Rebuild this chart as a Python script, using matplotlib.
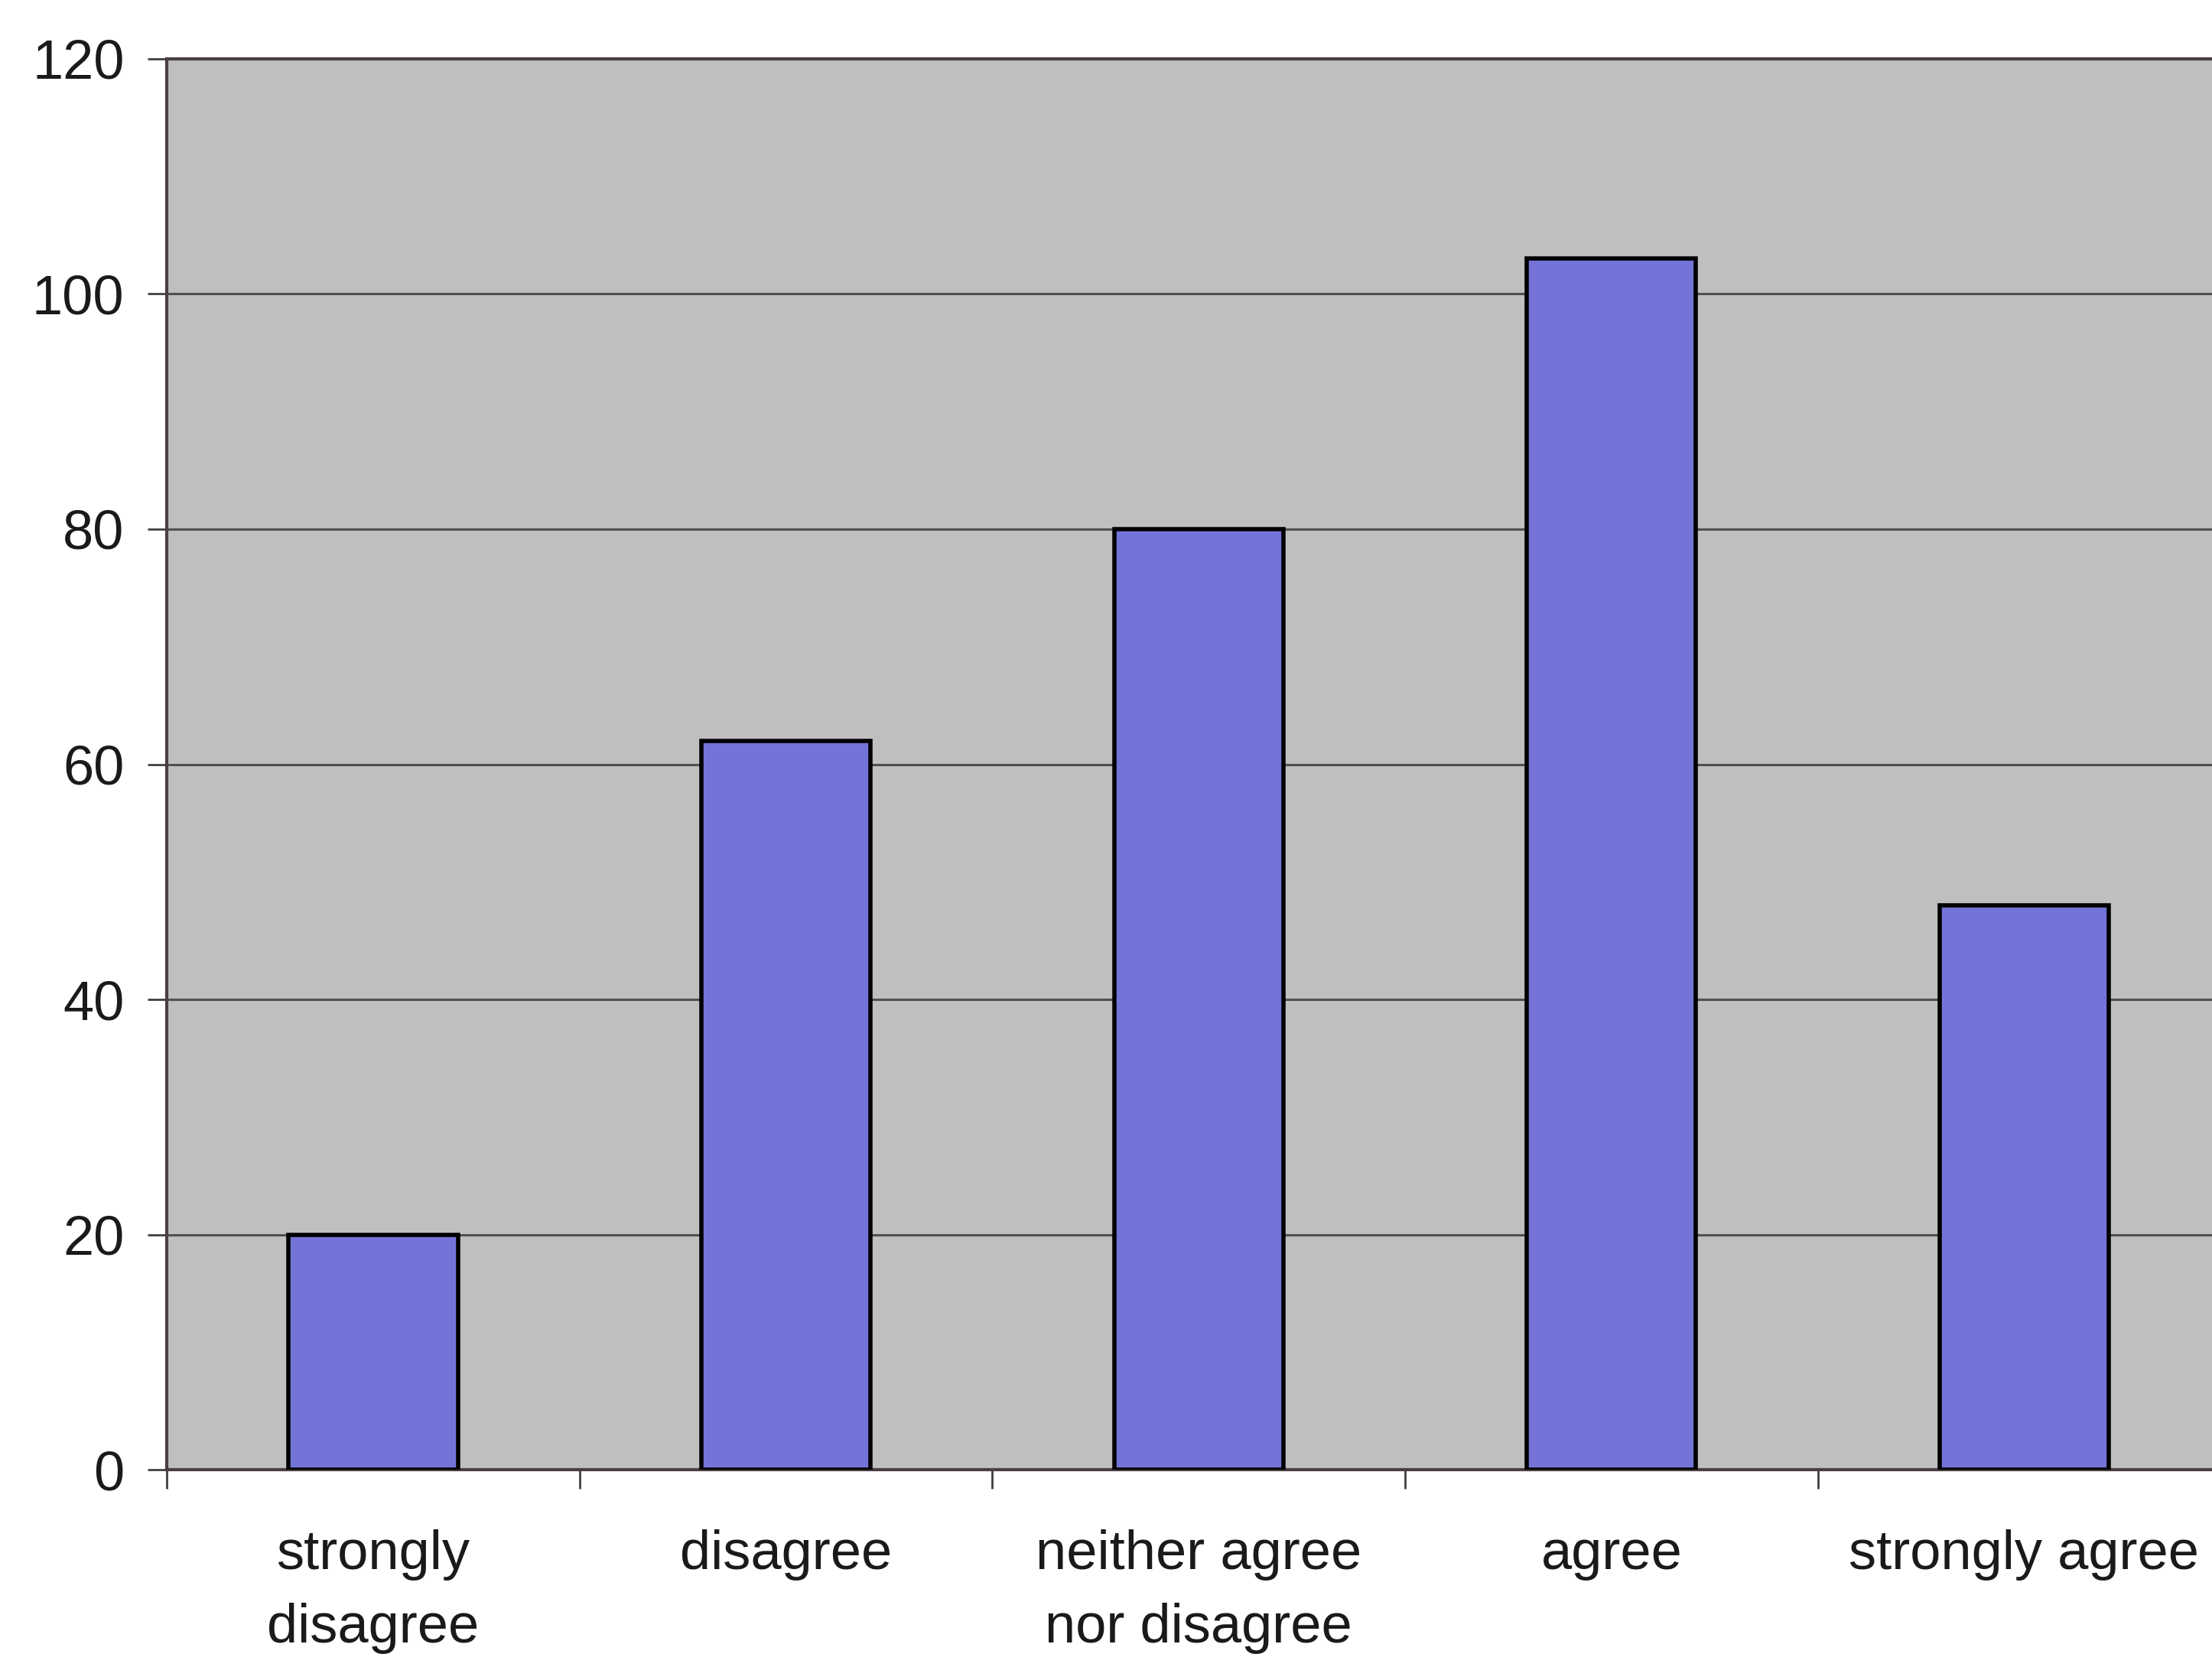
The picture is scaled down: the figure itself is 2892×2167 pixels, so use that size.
import matplotlib.pyplot as plt
import numpy as np

categories = ['strongly\ndisagree', 'disagree', 'neither agree\nnor disagree',
              'agree', 'strongly agree']
counts = [20, 62, 80, 103, 48]
y_ticks = [0, 20, 40, 60, 80, 100, 120]

plt.rcParams['font.family'] = ['Liberation Sans', 'DejaVu Sans']

fig = plt.figure(figsize=(28.92, 21.67), dpi=100)
ax = fig.add_axes([0.0754, 0.113, 0.933, 0.8515])
ax.set_facecolor('#bfbfbf')

x = np.arange(len(categories))
ax.bar(x, counts, width=0.41, color='#7474d8', edgecolor='black',
       linewidth=4, zorder=3)

ax.set_xlim(-0.5, len(categories) - 0.5)
ax.set_ylim(0, 120)
ax.set_yticks(y_ticks)
ax.yaxis.grid(True, color='#505050', linewidth=2.2, zorder=1)

ax.set_xticks(x)
ax.set_xticklabels(categories, fontsize=52, color='#1a1a1a', linespacing=1.55)
ax.set_xticks(np.arange(len(categories) + 1) - 0.5, minor=True)
ax.tick_params(axis='x', which='major', length=0, pad=56)
ax.tick_params(axis='x', which='minor', length=18, width=2, color='#404040')
ax.tick_params(axis='y', length=18, width=2, color='#404040',
               labelsize=52, labelcolor='#1a1a1a', pad=22)

for side in ['left', 'bottom', 'top']:
    ax.spines[side].set_color('#4a3f44')
    ax.spines[side].set_linewidth(3)
ax.spines['right'].set_visible(False)

fig.savefig('out.png', dpi=100)
